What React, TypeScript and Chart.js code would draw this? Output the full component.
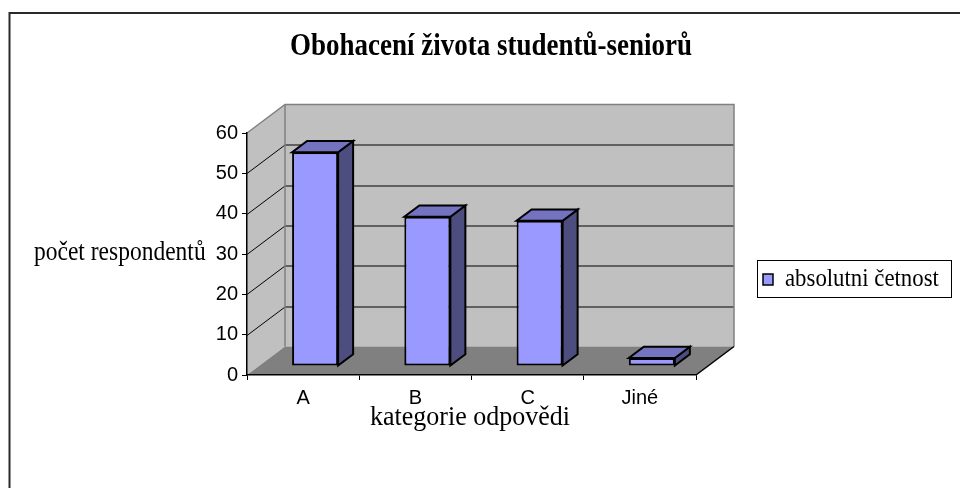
import React, { useEffect, useRef } from "react";
import { Chart, registerables } from "chart.js";

Chart.register(...registerables);

// ---- data ----
const categories = ["A", "B", "C", "Jiné"];
const seriesLabel = "absolutni četnost";
const values = [53, 37, 36, 2];
const yTickValues = [0, 10, 20, 30, 40, 50, 60];
const chartTitle = "Obohacení života studentů-seniorů";
const yAxisTitle = "počet respondentů";
const xAxisTitle = "kategorie odpovědi";

// ---- 3D look ----
const DX = 38;
const DY = -28.5;
const F0 = 0.315;
const F1 = 0.71;
const FRONT = "#9999ff";
const TOP = "#7373c0";
const SIDE = "#4d4d80";
const WALL = "#c0c0c0";
const FLOOR = "#808080";
const EDGE = "#808080";

type Pt = [number, number];

function poly(ctx: CanvasRenderingContext2D, pts: Pt[], fill?: string, stroke?: string, lw = 1) {
  ctx.beginPath();
  pts.forEach((p, i) => (i ? ctx.lineTo(p[0], p[1]) : ctx.moveTo(p[0], p[1])));
  ctx.closePath();
  if (fill) {
    ctx.fillStyle = fill;
    ctx.fill();
  }
  if (stroke) {
    ctx.strokeStyle = stroke;
    ctx.lineWidth = lw;
    ctx.stroke();
  }
}

function line(ctx: CanvasRenderingContext2D, pts: Pt[], color: string, lw = 1) {
  ctx.beginPath();
  pts.forEach((p, i) => (i ? ctx.lineTo(p[0], p[1]) : ctx.moveTo(p[0], p[1])));
  ctx.strokeStyle = color;
  ctx.lineWidth = lw;
  ctx.stroke();
}

function text(
  ctx: CanvasRenderingContext2D,
  s: string,
  x: number,
  y: number,
  font: string,
  align: CanvasTextAlign,
  sy: number
) {
  ctx.save();
  ctx.translate(x, y);
  ctx.scale(1, sy);
  ctx.font = font;
  ctx.textAlign = align;
  ctx.textBaseline = "middle";
  ctx.fillStyle = "#000000";
  ctx.fillText(s, 0, 0);
  ctx.restore();
}

const threeD = {
  id: "threeD",
  beforeDraw(chart: any) {
    const { ctx, chartArea: a, scales } = chart;
    const y = scales.y;
    ctx.save();
    ctx.fillStyle = "#ffffff";
    ctx.fillRect(0, 0, chart.width, chart.height);
    // outer frame
    line(ctx, [[9.5, 488], [9.5, 13], [960, 13]], "#2a2a2a", 2);

    const L = a.left;
    const R = a.right;
    const T = y.getPixelForValue(yTickValues[yTickValues.length - 1]);
    const B = y.getPixelForValue(0);
    // back wall
    poly(ctx, [[L + DX, T + DY], [R + DX, T + DY], [R + DX, B + DY], [L + DX, B + DY]], WALL);
    // left wall
    poly(ctx, [[L, B], [L, T], [L + DX, T + DY], [L + DX, B + DY]], WALL);
    // floor
    poly(ctx, [[L, B], [R, B], [R + DX, B + DY], [L + DX, B + DY]], FLOOR);
    // grid lines
    yTickValues.forEach((v) => {
      if (v <= 0 || v >= yTickValues[yTickValues.length - 1]) return;
      const p = Math.round(y.getPixelForValue(v)) + 0.5;
      line(ctx, [[L, p], [L + DX, p + DY], [R + DX, p + DY]], "#000000", 1);
    });
    // wall edges
    line(ctx, [[L, T], [L + DX, T + DY], [R + DX, T + DY], [R + DX, B + DY]], EDGE, 1.5);
    line(ctx, [[L + DX, T + DY], [L + DX, B + DY]], EDGE, 1.5);
    // floor right edge
    line(ctx, [[R, B], [R + DX, B + DY]], "#000000", 1.5);
    ctx.restore();
  },
  beforeDatasetsDraw(chart: any) {
    const ctx = chart.ctx;
    ctx.save();
    ctx.translate(F0 * DX, F0 * DY);
  },
  afterDatasetsDraw(chart: any) {
    const ctx = chart.ctx;
    const meta = chart.getDatasetMeta(0);
    const ddx = (F1 - F0) * DX;
    const ddy = (F1 - F0) * DY;
    meta.data.forEach((bar: any) => {
      const { x, y, base, width } = bar.getProps(["x", "y", "base", "width"], true);
      const x0 = x - width / 2;
      const x1 = x + width / 2;
      ctx.lineJoin = "miter";
      poly(ctx, [[x1, y], [x1 + ddx, y + ddy], [x1 + ddx, base + ddy], [x1, base]], SIDE, "#000000", 2);
      poly(ctx, [[x0, y], [x1, y], [x1 + ddx, y + ddy], [x0 + ddx, y + ddy]], TOP, "#000000", 2);
    });
    ctx.restore();
  },
  afterDraw(chart: any) {
    const ctx = chart.ctx;
    ctx.save();
    text(ctx, chartTitle, 491, 47, "bold 27px 'Liberation Serif'", "center", 1.15);
    text(ctx, yAxisTitle, 34, 253, "23.5px 'Liberation Serif'", "left", 1.12);
    text(ctx, xAxisTitle, 470, 418, "26px 'Liberation Serif'", "center", 1.05);
    // legend
    ctx.strokeStyle = "#000000";
    ctx.lineWidth = 1;
    ctx.strokeRect(757.5, 260.5, 194, 37);
    ctx.fillStyle = FRONT;
    ctx.fillRect(763, 274, 10, 11);
    ctx.strokeStyle = "#000000";
    ctx.lineWidth = 1.5;
    ctx.strokeRect(763, 274, 10, 11);
    text(ctx, seriesLabel, 785, 279, "22.8px 'Liberation Serif'", "left", 1.12);
    ctx.restore();
  },
};

export default function App() {
  const ref = useRef<HTMLCanvasElement | null>(null);
  useEffect(() => {
    if (!ref.current) return;
    const chart = new Chart(ref.current, {
      type: "bar",
      data: {
        labels: categories,
        datasets: [
          {
            label: seriesLabel,
            data: values,
            backgroundColor: FRONT,
            borderColor: "#000000",
            borderWidth: 2,
            borderSkipped: false,
            barPercentage: 0.41,
            categoryPercentage: 1,
            clip: false as any,
          },
        ],
      },
      options: {
        animation: false,
        responsive: false,
        maintainAspectRatio: false,
        devicePixelRatio: 1,
        layout: { padding: { left: 187, top: 133, right: 264, bottom: 73 } },
        plugins: {
          legend: { display: false },
          title: { display: false },
          tooltip: { enabled: false },
        },
        scales: {
          x: {
            afterFit: (s: any) => {
              s.height = 40;
            },
            grid: {
              display: true,
              drawOnChartArea: false,
              drawTicks: true,
              tickLength: 5,
              color: "#000000",
              offset: true,
            },
            border: { display: true, color: "#000000", width: 1.5 },
            ticks: {
              color: "#000000",
              font: { family: "'Liberation Sans'", size: 20 },
              padding: 6,
            },
          },
          y: {
            min: 0,
            max: 60,
            afterFit: (s: any) => {
              s.width = 60;
            },
            afterBuildTicks: (s: any) => {
              s.ticks = yTickValues.map((v) => ({ value: v }));
            },
            grid: {
              display: true,
              drawOnChartArea: false,
              drawTicks: true,
              tickLength: 5,
              color: "#000000",
            },
            border: { display: true, color: "#000000", width: 1.5 },
            ticks: {
              color: "#000000",
              font: { family: "'Liberation Sans'", size: 20 },
              padding: 4,
            },
          },
        },
      },
      plugins: [threeD],
    });
    return () => chart.destroy();
  }, []);
  return (
    <div style={{ position: "fixed", left: 0, top: 0, width: 960, height: 488, background: "#fff" }}>
      <canvas ref={ref} width={960} height={488} style={{ width: 960, height: 488, display: "block" }} />
    </div>
  );
}
